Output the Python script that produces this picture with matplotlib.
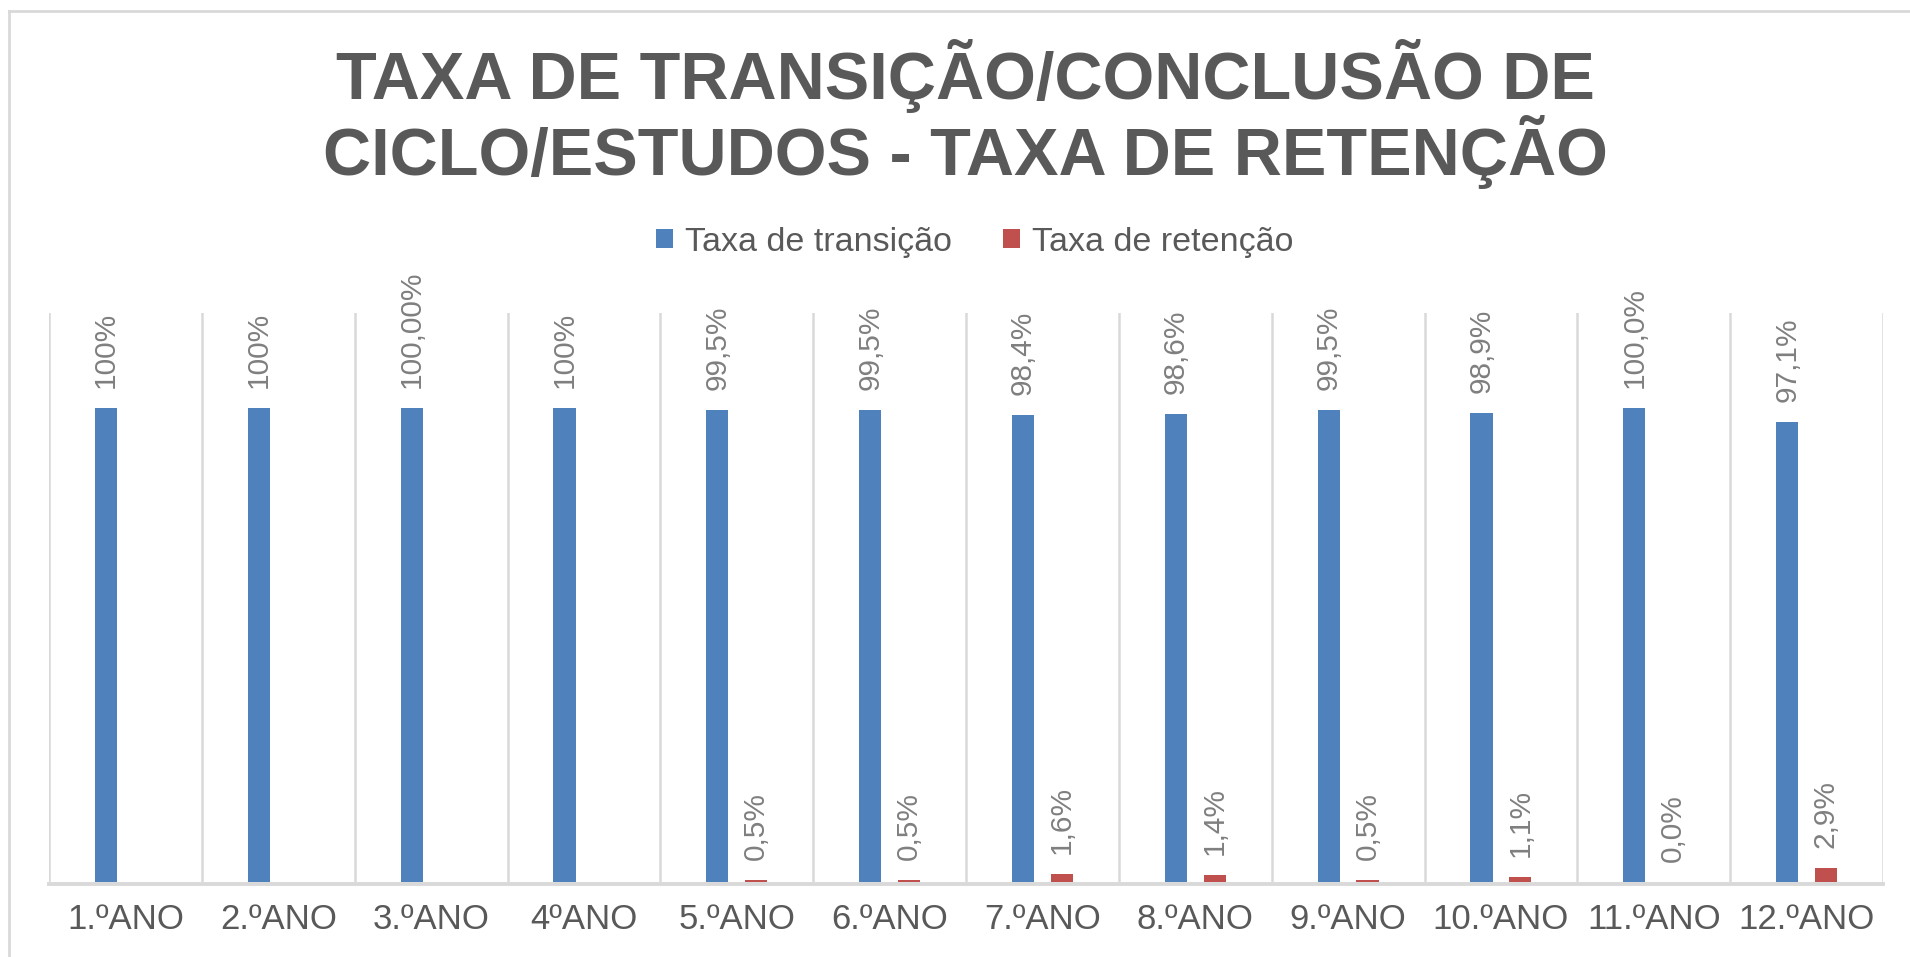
import numpy as np
import matplotlib
matplotlib.use("Agg")
import matplotlib.pyplot as plt
from matplotlib.lines import Line2D
from matplotlib.patches import Patch

plt.rcParams['font.family'] = ['Liberation Sans', 'DejaVu Sans']

categories = ["1.ºANO", "2.ºANO", "3.ºANO", "4ºANO", "5.ºANO", "6.ºANO",
              "7.ºANO", "8.ºANO", "9.ºANO", "10.ºANO", "11.ºANO", "12.ºANO"]
transicao = [100, 100, 100, 100, 99.5, 99.5, 98.4, 98.6, 99.5, 98.9, 100.0, 97.1]
transicao_labels = ["100%", "100%", "100,00%", "100%", "99,5%", "99,5%",
                    "98,4%", "98,6%", "99,5%", "98,9%", "100,0%", "97,1%"]
retencao = [np.nan, np.nan, np.nan, np.nan, 0.5, 0.5, 1.6, 1.4, 0.5, 1.1, 0.0, 2.9]
retencao_labels = ["", "", "", "", "0,5%", "0,5%", "1,6%", "1,4%",
                   "0,5%", "1,1%", "0,0%", "2,9%"]
series_names = ["Taxa de transição", "Taxa de retenção"]
title = "TAXA DE TRANSIÇÃO/CONCLUSÃO DE\nCICLO/ESTUDOS - TAXA DE RETENÇÃO"

BLUE = "#4f81bd"
RED = "#c0504d"
GRID = "#d9d9d9"
TXT = "#595959"
LBL = "#7f7f7f"

W, H = 1910, 957
fig = plt.figure(figsize=(W / 100, H / 100), dpi=100)
fig.patch.set_facecolor("white")

left, right, bottom, top = 49, 1883, 882, 313
ax = fig.add_axes([left / W, (H - bottom) / H, (right - left) / W, (bottom - top) / H])

x = np.arange(len(categories))
bw = 0.145
off = 0.127
b1 = ax.bar(x - off, transicao, width=bw, color=BLUE, zorder=3)
b2 = ax.bar(x + off, np.nan_to_num(retencao), width=bw, color=RED, zorder=3)

ax.set_xlim(-0.5, len(categories) - 0.5)
ax.set_ylim(0, 120)

for b in np.arange(-0.5, len(categories), 1.0):
    ax.axvline(b, color=GRID, lw=1.8, zorder=1)

for spine in ["top", "right", "left"]:
    ax.spines[spine].set_visible(False)
ax.spines["bottom"].set_color(GRID)
ax.spines["bottom"].set_linewidth(2.8)
ax.spines["bottom"].set_position(("outward", 1.4))
ax.spines["bottom"].set_zorder(2)

ax.set_yticks([])
ax.set_xticks(x)
ax.set_xticklabels(categories, fontsize=25, color=TXT)
ax.tick_params(axis="x", length=0, pad=14)

lbl_off = 20 / 1.389
for xi, v, s in zip(x, transicao, transicao_labels):
    ax.annotate(s, (xi - off, v), xytext=(0, lbl_off), textcoords="offset points",
                rotation=90, ha="center", va="bottom", fontsize=21.5, color=LBL)
for xi, v, s in zip(x, retencao, retencao_labels):
    if s:
        ax.annotate(s, (xi + off, v), xytext=(0, lbl_off), textcoords="offset points",
                    rotation=90, ha="center", va="bottom", fontsize=21.5, color=LBL)

fig.text(965 / W, 1 - 175 / H, title, ha="center", va="baseline", fontsize=48,
         fontweight="bold", color=TXT, linespacing=1.03, multialignment="center")

handles = [Patch(facecolor=BLUE, edgecolor="none"), Patch(facecolor=RED, edgecolor="none")]
fig.legend(handles, series_names, loc="center", bbox_to_anchor=(975 / W, 1 - 242 / H),
           ncol=2, frameon=False, fontsize=24.5, handlelength=0.5, handleheight=0.5,
           handletextpad=0.35, columnspacing=1.5, labelcolor=TXT, borderpad=0)

fig.add_artist(Line2D([9 / W, 9 / W], [0, 1 - 11 / H], transform=fig.transFigure,
                      color=GRID, lw=2))
fig.add_artist(Line2D([9 / W, 1], [1 - 11 / H, 1 - 11 / H], transform=fig.transFigure,
                      color=GRID, lw=2))

fig.savefig("out.png", dpi=100, facecolor="white")
